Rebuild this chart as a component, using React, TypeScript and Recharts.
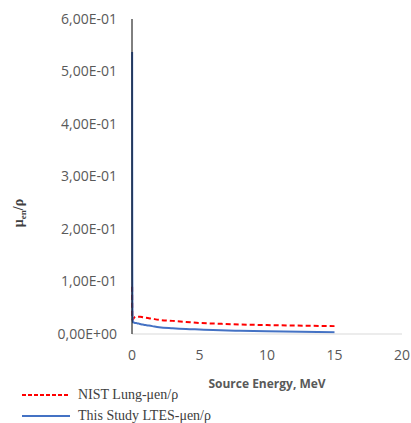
import React from "react";
import {
  LineChart,
  Line,
  XAxis,
  YAxis,
  Label,
} from "recharts";

// photon energies (MeV)
const energies = [
  0.01, 0.015, 0.02, 0.03, 0.04, 0.05, 0.06, 0.08, 0.1, 0.15, 0.2, 0.3, 0.4,
  0.5, 0.6, 0.8, 1, 1.25, 1.5, 2, 3, 4, 5, 6, 8, 10, 15,
];

const nistLung = [
  0.09, 0.06, 0.045, 0.032, 0.028, 0.027, 0.027, 0.028, 0.029, 0.031, 0.032,
  0.033, 0.033, 0.033, 0.033, 0.032, 0.031, 0.03, 0.029, 0.027, 0.025, 0.023,
  0.021, 0.02, 0.018, 0.017, 0.015,
];

const ltesStudy = [
  0.537, 0.31, 0.13, 0.06, 0.035, 0.027, 0.024, 0.022, 0.022, 0.022, 0.021,
  0.021, 0.02, 0.02, 0.019, 0.018, 0.017, 0.016, 0.015, 0.013, 0.011, 0.0095,
  0.0085, 0.0075, 0.0062, 0.0052, 0.0035,
];

const xTicks = [0, 5, 10, 15, 20];
const yTicks = [0, 0.1, 0.2, 0.3, 0.4, 0.5, 0.6];

const data = energies.map((e, i) => ({
  energy: e,
  nist: nistLung[i],
  ltes: ltesStudy[i],
}));

const sci = (v: number) => {
  if (v === 0) return "0,00E+00";
  const [m, ex] = v.toExponential(2).split("e");
  const n = parseInt(ex, 10);
  const pad = String(Math.abs(n)).padStart(2, "0");
  return `${m.replace(".", ",")}E${n < 0 ? "-" : "+"}${pad}`;
};

const tickStyle = { fill: "#595959", fontSize: 14, fontFamily: "Open Sans" };

const YTitle = () => (
  <text
    transform="translate(23, 213) rotate(-90)"
    textAnchor="middle"
    fontFamily="Liberation Serif"
    fontWeight="bold"
    fontSize={14}
    fill="#404040"
  >
    μ
    <tspan fontSize={9} dy={3}>en</tspan>
    <tspan dy={-3}>/ρ</tspan>
  </text>
);

const LegendBox = () => (
  <div
    style={{
      position: "absolute",
      left: 22,
      top: 384,
      fontFamily: "Liberation Serif",
      fontSize: 14,
      color: "#404040",
    }}
  >
    <div style={{ display: "flex", alignItems: "center", height: 21 }}>
      <svg width={50} height={4}>
        <line x1={0} y1={2} x2={48} y2={2} stroke="#FF0000" strokeWidth={2} strokeDasharray="4 2" />
      </svg>
      <span style={{ marginLeft: 6 }}>NIST Lung-μen/ρ</span>
    </div>
    <div style={{ display: "flex", alignItems: "center", height: 21 }}>
      <svg width={50} height={4}>
        <line x1={0} y1={2} x2={48} y2={2} stroke="#4472C4" strokeWidth={2} />
      </svg>
      <span style={{ marginLeft: 6 }}>This Study LTES-μen/ρ</span>
    </div>
  </div>
);

const App: React.FC = () => {
  return (
    <div style={{ position: "absolute", left: 0, top: 0, width: 411, height: 423, background: "#fff" }}>
      <LineChart
        width={411}
        height={423}
        data={data}
        margin={{ top: 19, right: 9, left: 0, bottom: 59 }}
      >
        <XAxis
          dataKey="energy"
          type="number"
          domain={[0, 20]}
          ticks={xTicks}
          tickLine={false}
          axisLine={{ stroke: "#d9d9d9", strokeWidth: 1 }}
          tick={tickStyle}
          tickMargin={10}
        >
          <Label
            value="Source Energy, MeV"
            position="insideBottom"
            offset={-24}
            style={{ fill: "#595959", fontSize: 12, fontWeight: "bold", fontFamily: "Open Sans" }}
          />
        </XAxis>
        <YAxis
          type="number"
          domain={[0, 0.6]}
          ticks={yTicks}
          width={132}
          tickLine={false}
          axisLine={{ stroke: "#000", strokeWidth: 1 }}
          tick={tickStyle}
          tickFormatter={sci}
          tickMargin={9}
        >
          <Label content={<YTitle />} />
        </YAxis>
        <Line
          type="monotone"
          dataKey="nist"
          stroke="#FF0000"
          strokeWidth={2}
          strokeDasharray="5 3"
          dot={false}
          isAnimationActive={false}
        />
        <Line
          type="monotone"
          dataKey="ltes"
          stroke="#4472C4"
          strokeWidth={2}
          dot={false}
          isAnimationActive={false}
        />
      </LineChart>
      <LegendBox />
    </div>
  );
};

export default App;
